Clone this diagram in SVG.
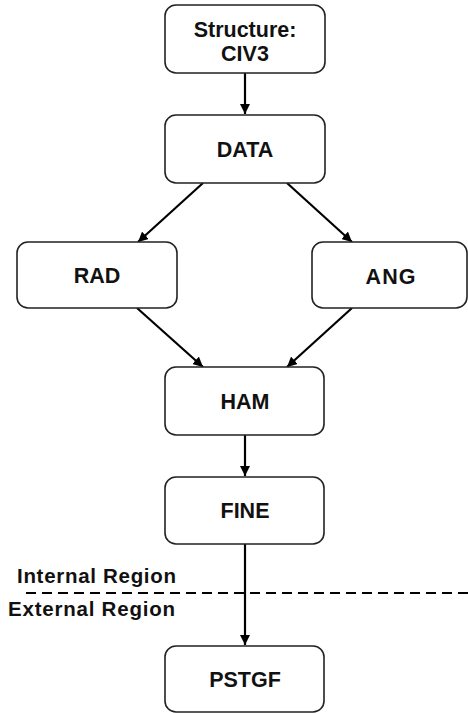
<svg xmlns="http://www.w3.org/2000/svg" width="468" height="713" viewBox="0 0 468 713">
<defs>
<marker id="ah" viewBox="0 0 10 10" refX="10" refY="5" markerWidth="10" markerHeight="10" markerUnits="userSpaceOnUse" orient="auto">
<path d="M0,0 L10,5 L0,10 Z" fill="#000"/>
</marker>
</defs>
<style>
.box{fill:#fff;stroke:#222;stroke-width:1.6}
.lbl{font-family:"Liberation Sans",Arial,sans-serif;font-weight:bold;font-size:21.5px;fill:#111;text-anchor:middle}
.reg{font-family:"Liberation Sans",Arial,sans-serif;font-weight:bold;font-size:20.5px;fill:#111}
.edge{stroke:#000;stroke-width:2.2;fill:none;marker-end:url(#ah)}
</style>
<rect width="468" height="713" fill="#fff"/>
<g id="connectors">
<line class="edge" x1="245" y1="73" x2="245" y2="114"/>
<line class="edge" x1="203" y1="183" x2="138" y2="242"/>
<line class="edge" x1="287" y1="183" x2="352" y2="242"/>
<line class="edge" x1="137" y1="308" x2="203" y2="367"/>
<line class="edge" x1="352" y1="308" x2="287" y2="367"/>
<line class="edge" x1="245" y1="435" x2="245" y2="476"/>
<line class="edge" x1="245" y1="544" x2="245" y2="645"/>
</g>
<g id="region-divider">
<line x1="26" y1="593" x2="468" y2="593" stroke="#000" stroke-width="2" stroke-dasharray="10,6"/>
<text class="reg" x="17" y="583" textLength="159" lengthAdjust="spacing">Internal Region</text>
<text class="reg" x="8" y="616" textLength="167" lengthAdjust="spacing">External Region</text>
</g>
<g id="node-structure">
<rect class="box" x="165" y="5" width="160" height="68" rx="11"/>
<text class="lbl" x="245" y="37">Structure:</text>
<text class="lbl" x="245" y="61">CIV3</text>
</g>
<g id="node-data">
<rect class="box" x="165" y="115" width="160" height="68" rx="11"/>
<text class="lbl" x="245" y="157">DATA</text>
</g>
<g id="node-rad">
<rect class="box" x="17" y="242" width="160" height="66" rx="11"/>
<text class="lbl" x="97" y="283">RAD</text>
</g>
<g id="node-ang">
<rect class="box" x="312" y="242" width="155" height="66" rx="11"/>
<text class="lbl" x="391" y="284" letter-spacing="1">ANG</text>
</g>
<g id="node-ham">
<rect class="box" x="165" y="367" width="159" height="68" rx="11"/>
<text class="lbl" x="245" y="409">HAM</text>
</g>
<g id="node-fine">
<rect class="box" x="165" y="477" width="159" height="67" rx="11"/>
<text class="lbl" x="245" y="518">FINE</text>
</g>
<g id="node-pstgf">
<rect class="box" x="165" y="646" width="159" height="66" rx="11"/>
<text class="lbl" x="245" y="687">PSTGF</text>
</g>
</svg>
